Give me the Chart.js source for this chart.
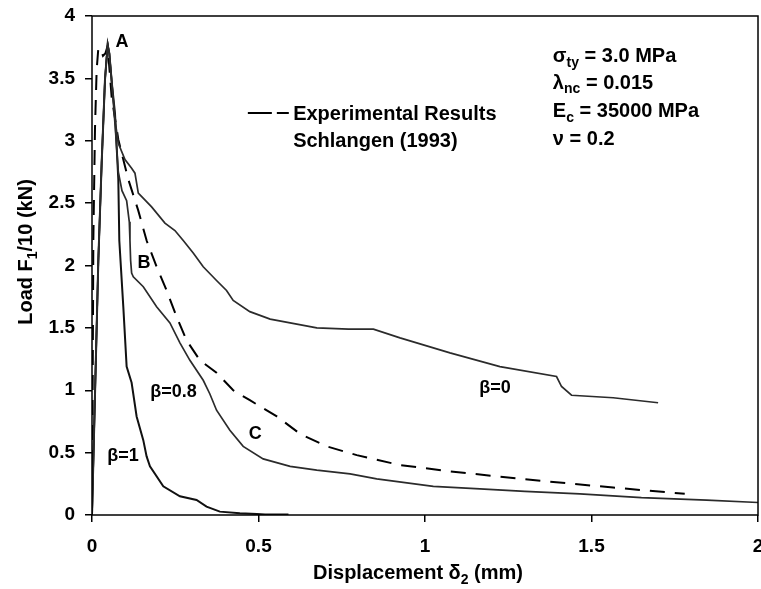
<!DOCTYPE html>
<html>
<head>
<meta charset="utf-8">
<script src="https://cdn.jsdelivr.net/npm/chart.js@4.4.0/dist/chart.umd.min.js"></script>
<style>
  html, body { margin: 0; padding: 0; background: #fff; overflow: hidden; }
  #wrap { width: 761px; height: 589px; }
</style>
</head>
<body>
<div id="wrap"><canvas id="loadChart" width="761" height="589"></canvas></div>
<script>
// displacement (mm) / load F1/10 (kN)
const beta0X = [0, 0.019, 0.029, 0.039, 0.047, 0.052, 0.06, 0.07, 0.079, 0.099, 0.119, 0.129, 0.139, 0.179, 0.219, 0.249, 0.274, 0.304, 0.334, 0.374, 0.404, 0.424, 0.474, 0.535, 0.595, 0.675, 0.77, 0.845, 0.925, 1.075, 1.225, 1.395, 1.41, 1.44, 1.565, 1.70];
const beta0Y = [0, 2.04, 2.82, 3.49, 3.77, 3.70, 3.45, 3.15, 2.98, 2.85, 2.78, 2.74, 2.58, 2.47, 2.34, 2.28, 2.20, 2.10, 1.99, 1.88, 1.80, 1.72, 1.63, 1.57, 1.54, 1.50, 1.49, 1.49, 1.42, 1.30, 1.19, 1.11, 1.03, 0.96, 0.94, 0.90];

const beta08X = [0, 0.019, 0.029, 0.039, 0.047, 0.052, 0.06, 0.07, 0.079, 0.09, 0.104, 0.112, 0.114, 0.116, 0.119, 0.124, 0.154, 0.194, 0.234, 0.264, 0.294, 0.334, 0.354, 0.374, 0.414, 0.454, 0.514, 0.595, 0.675, 0.775, 0.855, 1.025, 1.165, 1.30, 1.465, 1.65, 1.846, 2.0];
const beta08Y = [0, 2.04, 2.82, 3.49, 3.77, 3.70, 3.45, 3.10, 2.75, 2.60, 2.52, 2.35, 2.20, 2.04, 1.94, 1.91, 1.83, 1.67, 1.54, 1.38, 1.24, 1.08, 0.97, 0.84, 0.68, 0.55, 0.45, 0.39, 0.36, 0.33, 0.29, 0.23, 0.21, 0.19, 0.17, 0.14, 0.12, 0.10];

const beta1X = [0, 0.019, 0.029, 0.039, 0.047, 0.052, 0.06, 0.069, 0.079, 0.082, 0.094, 0.104, 0.119, 0.134, 0.154, 0.164, 0.174, 0.214, 0.264, 0.314, 0.344, 0.384, 0.444, 0.495, 0.52, 0.59];
const beta1Y = [0, 2.04, 2.82, 3.49, 3.77, 3.70, 3.45, 3.22, 2.69, 2.20, 1.67, 1.19, 1.06, 0.79, 0.60, 0.47, 0.39, 0.23, 0.15, 0.12, 0.067, 0.027, 0.014, 0.008, 0.005, 0.005];

const expX = [0, 0.002, 0.004, 0.009, 0.014, 0.019, 0.026, 0.033, 0.040, 0.047, 0.059, 0.079, 0.109, 0.139, 0.164, 0.194, 0.224, 0.254, 0.284, 0.324, 0.374, 0.424, 0.474, 0.555, 0.625, 0.705, 0.795, 0.925, 1.075, 1.215, 1.365, 1.565, 1.78];
const expY = [0, 1.0, 2.2, 3.1, 3.57, 3.74, 3.74, 3.68, 3.70, 3.76, 3.35, 3.01, 2.69, 2.44, 2.20, 1.99, 1.80, 1.59, 1.40, 1.24, 1.14, 1.00, 0.92, 0.79, 0.65, 0.55, 0.48, 0.40, 0.35, 0.31, 0.27, 0.22, 0.17];

const xTicks = [0, 0.5, 1, 1.5, 2];
const yTicks = [0, 0.5, 1, 1.5, 2, 2.5, 3, 3.5, 4];

const FONT = "'Liberation Sans', Arial, Helvetica, sans-serif";

function toPoints(xs, ys) {
  return xs.map((x, i) => ({x: x, y: ys[i]}));
}

// text like 'σ_{ty} = 3.0 MPa' -> parts with subscripts
function parseRich(str) {
  const parts = [];
  str.split(/(_\{[^}]*\})/).forEach(s => {
    if (!s) return;
    if (s.startsWith('_{')) parts.push({t: s.slice(2, -1), sub: true});
    else parts.push({t: s, sub: false});
  });
  return parts;
}

function drawRich(ctx, str, x, y, size, align) {
  const parts = parseRich(str);
  const main = `bold ${size}px ${FONT}`;
  const sub = `bold ${Math.round(size * 0.68)}px ${FONT}`;
  let w = 0;
  parts.forEach(p => { ctx.font = p.sub ? sub : main; w += ctx.measureText(p.t).width; });
  let cx = align === 'center' ? x - w / 2 : x;
  const base = y + size * 0.36;
  ctx.textAlign = 'left';
  ctx.textBaseline = 'alphabetic';
  parts.forEach(p => {
    ctx.font = p.sub ? sub : main;
    ctx.fillText(p.t, cx, p.sub ? base + size * 0.22 : base);
    cx += ctx.measureText(p.t).width;
  });
}

// labels placed in data coordinates
const curveLabels = [
  {text: 'A', x: 0.09, y: 3.80},
  {text: 'B', x: 0.156, y: 2.03},
  {text: 'C', x: 0.49, y: 0.66},
  {text: 'β=1', x: 0.093, y: 0.485},
  {text: 'β=0.8', x: 0.245, y: 1.0},
  {text: 'β=0', x: 1.21, y: 1.03}
];
const paramLines = ['σ_{ty} = 3.0 MPa', 'λ_{nc} = 0.015', 'E_{c} = 35000 MPa', 'ν = 0.2'];
const paramRowsY = [3.687, 3.473, 3.246, 3.022];

const decorations = {
  id: 'decorations',
  afterDraw(chart) {
    const ctx = chart.ctx;
    const a = chart.chartArea;
    const xs = chart.scales.x, ys = chart.scales.y;
    ctx.save();
    ctx.strokeStyle = '#000';
    ctx.lineWidth = 1.5;
    ctx.strokeRect(a.left, a.top, a.right - a.left, a.bottom - a.top);
    ctx.fillStyle = '#000';

    curveLabels.forEach(l => {
      drawRich(ctx, l.text, xs.getPixelForValue(l.x), ys.getPixelForValue(l.y), 18, 'center');
    });
    paramLines.forEach((t, i) => {
      drawRich(ctx, t, xs.getPixelForValue(1.384), ys.getPixelForValue(paramRowsY[i]), 20, 'left');
    });

    // legend entry for the experimental curve
    const ly = ys.getPixelForValue(3.222);
    ctx.setLineDash([24, 5, 12, 100]);
    ctx.lineWidth = 2;
    ctx.beginPath();
    ctx.moveTo(xs.getPixelForValue(0.468), ly);
    ctx.lineTo(xs.getPixelForValue(0.591), ly);
    ctx.stroke();
    ctx.setLineDash([]);
    drawRich(ctx, 'Experimental Results', xs.getPixelForValue(0.604), ly, 20, 'left');
    drawRich(ctx, 'Schlangen (1993)', xs.getPixelForValue(0.604), ys.getPixelForValue(3.006), 20, 'left');

    // axis titles
    drawRich(ctx, 'Displacement δ_{2} (mm)', 418, 572, 20, 'center');
    ctx.translate(25, 252);
    ctx.rotate(-Math.PI / 2);
    drawRich(ctx, 'Load F_{1}/10 (kN)', 0, 0, 20, 'center');
    ctx.restore();
  }
};

const ctx = document.getElementById('loadChart').getContext('2d');

const lineStyle = {
  showLine: true,
  pointRadius: 0,
  fill: false,
  tension: 0
};

new Chart(ctx, {
  type: 'scatter',
  data: {
    datasets: [
      {...lineStyle, label: 'β=0', data: toPoints(beta0X, beta0Y), borderColor: '#2b2b2b', borderWidth: 1.7},
      {...lineStyle, label: 'β=0.8', data: toPoints(beta08X, beta08Y), borderColor: '#2b2b2b', borderWidth: 1.7},
      {...lineStyle, label: 'β=1', data: toPoints(beta1X, beta1Y), borderColor: '#111', borderWidth: 2},
      {...lineStyle, label: 'Experimental Results Schlangen (1993)', data: toPoints(expX, expY), borderColor: '#000', borderWidth: 2, borderDash: [15, 10]}
    ]
  },
  options: {
    responsive: false,
    animation: false,
    devicePixelRatio: 1,
    layout: {padding: {top: 16, right: 3, bottom: 0, left: 0}},
    scales: {
      x: {
        type: 'linear',
        min: 0,
        max: 2,
        afterBuildTicks: s => { s.ticks = xTicks.map(v => ({value: v})); },
        afterFit: s => { s.height = 74; s.paddingLeft = 0; s.paddingRight = 0; },
        border: {display: false},
        grid: {drawOnChartArea: false, drawTicks: true, tickLength: 7, color: '#000', lineWidth: 1.5},
        ticks: {color: '#000', padding: 13, maxRotation: 0, callback: v => String(v), font: {family: FONT, size: 19, weight: 'bold'}}
      },
      y: {
        type: 'linear',
        min: 0,
        max: 4,
        afterBuildTicks: s => { s.ticks = yTicks.map(v => ({value: v})); },
        afterFit: s => { s.width = 92; s.paddingTop = 0; s.paddingBottom = 0; },
        border: {display: false},
        grid: {drawOnChartArea: false, drawTicks: true, tickLength: 7, color: '#000', lineWidth: 1.5},
        ticks: {color: '#000', padding: 10, callback: v => String(v), font: {family: FONT, size: 19, weight: 'bold'}}
      }
    },
    plugins: {
      legend: {display: false},
      tooltip: {enabled: false}
    }
  },
  plugins: [decorations]
});
</script>
</body>
</html>
